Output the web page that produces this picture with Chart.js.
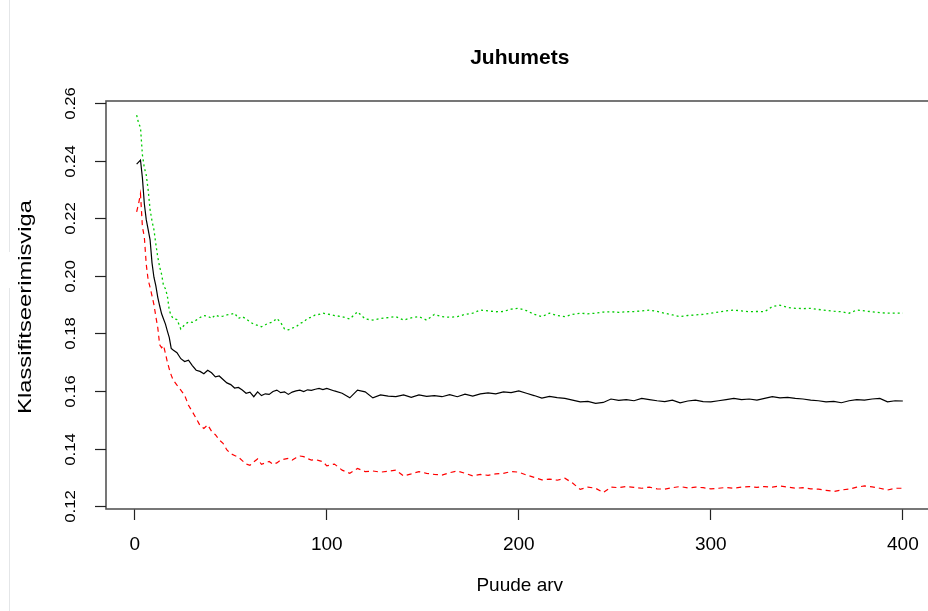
<!DOCTYPE html>
<html>
<head>
<meta charset="utf-8">
<script src="https://cdn.jsdelivr.net/npm/chart.js@4"></script>
<style>
  html, body { margin: 0; padding: 0; background: #fff; overflow: hidden; }
  .wrap { position: relative; width: 940px; height: 611px; }
  .edge { position: absolute; left: 9px; width: 1px; background: #e4e6e8; }
</style>
</head>
<body>
<div class="wrap">
  <div class="edge" style="top:0;height:252px"></div>
  <div class="edge" style="top:288px;height:323px"></div>
  <canvas id="rfChart" width="940" height="611"></canvas>
</div>
<script>
// --- DATA ---
const trees = [
  1, 2, 3, 4, 5, 6, 7, 8, 9, 10, 11, 12, 13, 14, 15, 16, 17, 18, 19, 20,
  22, 24, 26, 28, 30, 32, 34, 36, 38, 40, 42, 44, 46, 48, 50, 52, 54, 56, 58, 60,
  62, 64, 66, 68, 70, 72, 74, 76, 78, 80, 82, 84, 86, 88, 90, 92, 94, 96, 98, 100,
  104, 108, 112, 116, 120, 124, 128, 132, 136, 140, 144, 148, 152, 156, 160, 164, 168, 172, 176, 180,
  184, 188, 192, 196, 200, 204, 208, 212, 216, 220, 224, 228, 232, 236, 240, 244, 248, 252, 256, 260,
  264, 268, 272, 276, 280, 284, 288, 292, 296, 300, 304, 308, 312, 316, 320, 324, 328, 332, 336, 340,
  344, 348, 352, 356, 360, 364, 368, 372, 376, 380, 384, 388, 392, 396, 400
];

const oobError = [
  .2388, .2395, .2402, .2340, .2250, .2195, .2160, .2125, .2045, .1995, .1965, .1925, .1895, .1868, .1850, .1832, .1808, .1785, .1748, .1742,
  .1733, .1712, .1702, .1707, .1688, .1672, .1668, .1660, .1672, .1663, .1649, .1652, .1640, .1628, .1622, .1610, .1612, .1603, .1592, .1596,
  .1580, .1597, .1584, .1590, .1588, .1598, .1603, .1594, .1597, .1588, .1596, .1600, .1603, .1598, .1604, .1602, .1606, .1609, .1605, .1609,
  .1600, .1592, .1576, .1603, .1597, .1576, .1586, .1582, .1580, .1586, .1578, .1586, .1581, .1584, .1580, .1587, .1580, .1589, .1582, .1590,
  .1593, .1590, .1597, .1594, .1600, .1592, .1584, .1575, .1581, .1577, .1574, .1568, .1562, .1564, .1557, .1560, .1572, .1567, .1570, .1566,
  .1574, .1570, .1566, .1563, .1568, .1559, .1565, .1568, .1563, .1562, .1566, .1570, .1574, .1570, .1572, .1568, .1574, .1580, .1576, .1578,
  .1574, .1572, .1568, .1566, .1562, .1564, .1559, .1566, .1570, .1568, .1572, .1574, .1562, .1566, .1565
];

const class1Error = [
  .2222, .2250, .2285, .2170, .2135, .2040, .1985, .1960, .1930, .1900, .1858, .1820, .1760, .1750, .1758, .1730, .1700, .1676, .1655, .1638,
  .1620, .1603, .1585, .1550, .1528, .1505, .1480, .1470, .1482, .1460, .1448, .1430, .1418, .1395, .1382, .1376, .1370, .1358, .1346, .1342,
  .1354, .1364, .1345, .1350, .1355, .1345, .1350, .1360, .1363, .1366, .1360, .1368, .1374, .1372, .1365, .1360, .1362, .1358, .1354, .1340,
  .1346, .1325, .1314, .1331, .1320, .1322, .1318, .1321, .1325, .1305, .1312, .1320, .1314, .1310, .1308, .1316, .1322, .1314, .1305, .1310,
  .1307, .1312, .1314, .1320, .1318, .1308, .1300, .1291, .1294, .1290, .1297, .1280, .1258, .1266, .1262, .1247, .1266, .1264, .1268, .1265,
  .1262, .1266, .1260, .1259, .1264, .1268, .1263, .1266, .1264, .1260, .1262, .1265, .1262, .1266, .1268, .1265, .1268, .1266, .1270, .1266,
  .1262, .1264, .1260, .1259, .1255, .1251, .1256, .1259, .1266, .1270, .1267, .1262, .1256, .1262, .1262
];

const class2Error = [
  .2558, .2530, .2515, .2420, .2375, .2350, .2298, .2230, .2190, .2160, .2110, .2065, .2030, .2005, .1965, .1955, .1930, .1880, .1862, .1852,
  .1848, .1815, .1830, .1840, .1838, .1846, .1855, .1862, .1860, .1852, .1864, .1858, .1860, .1864, .1866, .1870, .1852, .1858, .1850, .1840,
  .1832, .1828, .1823, .1830, .1836, .1840, .1852, .1838, .1815, .1812, .1818, .1823, .1834, .1840, .1852, .1856, .1864, .1866, .1870, .1868,
  .1862, .1858, .1850, .1875, .1850, .1846, .1852, .1855, .1858, .1846, .1854, .1858, .1846, .1866, .1858, .1856, .1858, .1866, .1870, .1881,
  .1878, .1875, .1876, .1884, .1887, .1879, .1866, .1858, .1870, .1862, .1858, .1866, .1870, .1868, .1870, .1874, .1875, .1873, .1875, .1876,
  .1878, .1881, .1876, .1870, .1864, .1858, .1862, .1864, .1866, .1870, .1874, .1878, .1881, .1878, .1875, .1876, .1875, .1893, .1898, .1890,
  .1887, .1886, .1887, .1883, .1880, .1877, .1875, .1870, .1881, .1878, .1875, .1872, .1870, .1870, .1870
];

const xTicks = [0, 100, 200, 300, 400];
const yTicks = [0.12, 0.14, 0.16, 0.18, 0.20, 0.22, 0.24, 0.26];

const FONT = "'Liberation Sans', Arial, sans-serif";

const toPoints = (vals) => vals.map((v, i) => ({ x: trees[i], y: v }));

// R style frame, y ticks with rotated labels, y axis title
const rFrame = {
    id: 'rFrame',
    afterDraw(chart) {
        const { ctx, chartArea: a } = chart;
        const ys = chart.scales.y;
        ctx.save();
        ctx.strokeStyle = '#555';
        ctx.lineWidth = 1.6;
        ctx.strokeRect(a.left, a.top, a.right - a.left, a.bottom - a.top);

        ctx.strokeStyle = '#222';
        ctx.lineWidth = 1.2;
        ctx.fillStyle = '#000';
        ctx.font = '15px ' + FONT;
        ctx.textAlign = 'center';
        ctx.textBaseline = 'middle';
        yTicks.forEach(v => {
            const py = Math.round(ys.getPixelForValue(v)) + 0.5;
            ctx.beginPath();
            ctx.moveTo(a.left - 11, py);
            ctx.lineTo(a.left, py);
            ctx.stroke();
            ctx.save();
            ctx.translate(71, py);
            ctx.rotate(-Math.PI / 2);
            ctx.scale(1.12, 1);
            ctx.fillText(v.toFixed(2), 0, 0);
            ctx.restore();
        });

        ctx.save();
        ctx.font = '18px ' + FONT;
        ctx.translate(26, (a.top + a.bottom) / 2 + 2);
        ctx.rotate(-Math.PI / 2);
        ctx.scale(1.32, 1);
        ctx.fillText('Klassifitseerimisviga', 0, 0);
        ctx.restore();
        ctx.restore();
    }
};

const ctx = document.getElementById('rfChart').getContext('2d');
const rfChart = new Chart(ctx, {
    type: 'line',
    data: {
        datasets: [
            { label: 'OOB', data: toPoints(oobError), borderColor: '#000', borderWidth: 1.2 },
            { label: '1', data: toPoints(class1Error), borderColor: '#ff0000', borderWidth: 1.2, borderDash: [5, 4] },
            { label: '2', data: toPoints(class2Error), borderColor: '#00cc00', borderWidth: 1.3, borderDash: [2, 3] }
        ]
    },
    options: {
        responsive: false,
        animation: false,
        devicePixelRatio: 1,
        elements: { point: { radius: 0 }, line: { tension: 0, fill: false } },
        layout: { padding: { left: 106, right: 6.5, top: 0, bottom: 0 } },
        scales: {
            x: {
                type: 'linear',
                min: -14.96,
                max: 415.96,
                afterBuildTicks: s => { s.ticks = xTicks.map(v => ({ value: v })); },
                afterFit: s => { s.height = 102; },
                ticks: { color: '#000', font: { family: FONT, size: 19 }, padding: 13, maxRotation: 0, autoSkip: false },
                grid: { drawOnChartArea: false, tickLength: 11, tickColor: '#222', tickWidth: 1.2 },
                border: { display: false },
                title: { display: true, text: 'Puude arv', color: '#000', font: { family: FONT, size: 19 }, padding: { top: 0, bottom: 14 } }
            },
            y: {
                display: false,
                min: 0.119,
                max: 0.2607
            }
        },
        plugins: {
            legend: { display: false },
            tooltip: { enabled: false },
            title: {
                display: true,
                text: 'Juhumets',
                color: '#000',
                font: { family: FONT, size: 21, weight: 'bold' },
                padding: { top: 46, bottom: 29.8 }
            }
        }
    },
    plugins: [rFrame]
});
</script>
</body>
</html>
